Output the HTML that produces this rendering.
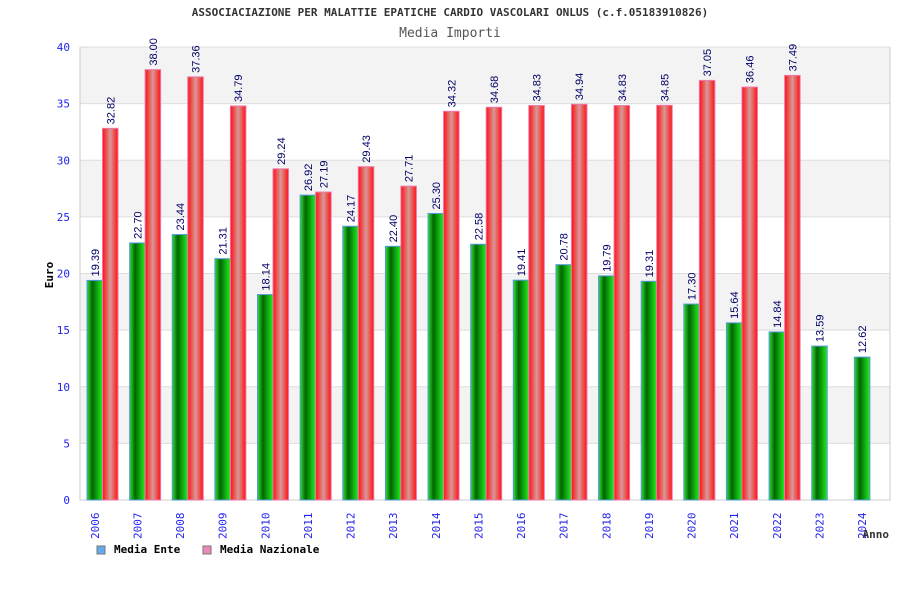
<!DOCTYPE html>
<html><head><meta charset="utf-8"><style>
body{margin:0;background:#fff;width:900px;height:600px;overflow:hidden}
svg text{font-family:"DejaVu Sans Mono","Liberation Mono",monospace}
</style></head><body>
<svg width="900" height="600" id="c">
<defs>
<linearGradient id="gg" x1="0" x2="1" y1="0" y2="0"><stop offset="0" stop-color="#33dd33"/><stop offset="0.35" stop-color="#006600"/><stop offset="1" stop-color="#22ee22"/></linearGradient>
<linearGradient id="rg" x1="0" x2="1" y1="0" y2="0"><stop offset="0" stop-color="#ff1111"/><stop offset="0.5" stop-color="#d89898"/><stop offset="1" stop-color="#ff1111"/></linearGradient>
</defs>
<text x="450" y="16" text-anchor="middle" font-size="11" font-weight="bold" fill="#333">ASSOCIACIAZIONE PER MALATTIE EPATICHE CARDIO VASCOLARI ONLUS (c.f.05183910826)</text>
<text x="450" y="37" text-anchor="middle" font-size="13" fill="#555">Media Importi</text>
<g id="plot"></g>
<text transform="translate(53,275) rotate(-90)" text-anchor="middle" font-size="11" font-weight="bold" fill="#000">Euro</text>
<text x="889" y="538" text-anchor="end" font-size="11" font-weight="bold" fill="#333">Anno</text>
<g>
<rect x="97" y="546" width="8" height="8" fill="#66aaee" stroke="#777"/>
<text x="114" y="553" font-size="11" font-weight="bold">Media Ente</text>
<rect x="203" y="546" width="8" height="8" fill="#ee88bb" stroke="#777"/>
<text x="220" y="553" font-size="11" font-weight="bold">Media Nazionale</text>
</g>
</svg>
<script>
const categories=["2006","2007","2008","2009","2010","2011","2012","2013","2014","2015","2016","2017","2018","2019","2020","2021","2022","2023","2024"];
const enteValues=[19.39,22.70,23.44,21.31,18.14,26.92,24.17,22.40,25.30,22.58,19.41,20.78,19.79,19.31,17.30,15.64,14.84,13.59,12.62];
const nazValues=[32.82,38.00,37.36,34.79,29.24,27.19,29.43,27.71,34.32,34.68,34.83,34.94,34.83,34.85,37.05,36.46,37.49,null,null];
const yTicks=[0,5,10,15,20,25,30,35,40];
const NS="http://www.w3.org/2000/svg";
const L=80,R=890,T=47,B=500,ymax=40;
const y=v=>B-(v/ymax)*(B-T);
const gw=(R-L)/categories.length;
const gx=i=>L+i*gw;
const g=document.getElementById('plot');
function mk(t,a){const e=document.createElementNS(NS,t);for(const k in a)e.setAttribute(k,a[k]);g.appendChild(e);return e;}
for(let i=0;i<yTicks.length-1;i++){
 if(i%2==1){const r=mk('rect',{x:L,y:y(yTicks[i+1]),width:R-L,height:y(yTicks[i])-y(yTicks[i+1]),fill:'#f3f3f3'});
 
 }
}
yTicks.forEach(v=>{
 const l=mk('line',{x1:L,x2:R,y1:y(v),y2:y(v),stroke:'#dddddd'});
 
 
 const t=mk('text',{x:70,y:y(v)+4,'text-anchor':'end','font-size':'11',fill:'#2222ee'});
 t.textContent=v;
 
 
});
const ax=mk('path',{d:`M${L},${T}V${B}H${R}V${T}`,stroke:'#cccccc',fill:'none'});


const bw=15.5,off=7;
function bar(i,v,x,fill,stroke,name){
 if(v==null)return;
 const r=mk('rect',{x:x,y:y(v),width:bw,height:B-y(v),fill:fill,stroke:stroke,'stroke-width':'1'});
 
 
 const cx=x+bw/2+4,ty=y(v)-4;
 const t=mk('text',{transform:`translate(${cx},${ty}) rotate(-90)`,'font-size':'11',fill:'#000066'});
 t.setAttribute('style','font-family:"Liberation Sans",sans-serif');
 t.textContent=v.toFixed(2);
 
 
}
categories.forEach((c,i)=>{
 const x0=gx(i)+off;
 bar(i,enteValues[i],x0,'url(#gg)','#5599dd','bar-ente-'+c);
 bar(i,nazValues[i],x0+bw,'url(#rg)','#ee77aa','bar-nazionale-'+c);
 const t=mk('text',{transform:`translate(${x0+bw/2+4},${539}) rotate(-90)`,'font-size':'11',fill:'#2222ee'});
 t.textContent=c;
 
 
});
</script>
</body></html>
